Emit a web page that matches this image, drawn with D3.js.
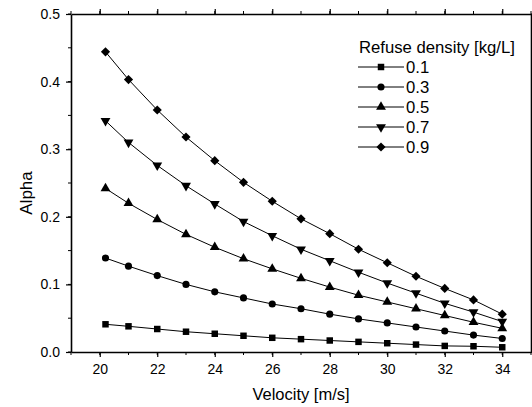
<!DOCTYPE html>
<html>
<head>
<meta charset="utf-8">
<script src="https://cdn.jsdelivr.net/npm/d3@7"></script>
<style>
  body { margin: 0; background: #fff; }
  svg { font-family: "Liberation Sans", Arial, sans-serif; }
</style>
</head>
<body>
<svg width="532" height="407"></svg>
<script>
const velocity = [20.2, 21, 22, 23, 24, 25, 26, 27, 28, 29, 30, 31, 32, 33, 34];
const densities = ['0.1', '0.3', '0.5', '0.7', '0.9'];
const alpha01 = [0.041, 0.038, 0.034, 0.030, 0.027, 0.024, 0.021, 0.019, 0.017, 0.015, 0.013, 0.011, 0.009, 0.0085, 0.007];
const alpha03 = [0.139, 0.127, 0.113, 0.100, 0.089, 0.080, 0.071, 0.064, 0.056, 0.049, 0.043, 0.037, 0.031, 0.025, 0.020];
const alpha05 = [0.242, 0.220, 0.196, 0.174, 0.155, 0.138, 0.123, 0.109, 0.096, 0.084, 0.074, 0.064, 0.054, 0.044, 0.035];
const alpha07 = [0.342, 0.310, 0.276, 0.246, 0.219, 0.193, 0.172, 0.152, 0.135, 0.118, 0.102, 0.087, 0.072, 0.059, 0.045];
const alpha09 = [0.444, 0.403, 0.358, 0.318, 0.283, 0.251, 0.223, 0.197, 0.175, 0.152, 0.132, 0.112, 0.094, 0.077, 0.056];
const xTicks = [20, 22, 24, 26, 28, 30, 32, 34];
const yTicks = [0.0, 0.1, 0.2, 0.3, 0.4, 0.5];

const seriesValues = [alpha01, alpha03, alpha05, alpha07, alpha09];
const series = densities.map((d, i) => ({
  name: d,
  points: velocity.map((v, j) => ({ x: v, y: seriesValues[i][j] })),
}));

const LEFT = 71, RIGHT = 531, TOP = 14, BOTTOM = 352;

const x = d3.scaleLinear().domain([19, 35]).range([LEFT, RIGHT]);
const y = d3.scaleLinear().domain([0, 0.5]).range([BOTTOM, TOP]);

const svg = d3.select('svg');

// marker shapes: square, circle, up triangle, down triangle, diamond
const shapes = [
  { type: d3.symbolSquare, size: 42, rotate: 0 },
  { type: d3.symbolCircle, size: 40, rotate: 0 },
  { type: d3.symbolTriangle, size: 42, rotate: 0 },
  { type: d3.symbolTriangle, size: 42, rotate: 180 },
  { type: d3.symbolSquare, size: 42, rotate: 45 },
];

const line = d3.line().x((d) => x(d.x)).y((d) => y(d.y));

const plot = svg.append('g');

plot
  .selectAll('.series')
  .data(series)
  .enter()
  .append('path')
  .classed('series', true)
  .attr('d', (d) => line(d.points))
  .attr('fill', 'none')
  .attr('stroke', '#000')
  .attr('stroke-width', 1);

series.forEach((s, i) => {
  plot
    .selectAll('.m' + i)
    .data(s.points)
    .enter()
    .append('path')
    .classed('m' + i, true)
    .attr('d', d3.symbol(shapes[i].type, shapes[i].size))
    .attr('transform', (d) => `translate(${x(d.x)},${y(d.y)}) rotate(${shapes[i].rotate})`)
    .attr('fill', '#000');
});

// axes, with mirrored frame and minor ticks
const minorX = d3.range(19, 36, 1);
const minorY = d3.range(0, 0.51, 0.05);

const bottomAxis = svg.append('g')
  .attr('transform', `translate(0,${BOTTOM})`)
  .call(d3.axisBottom(x).tickValues(xTicks).tickFormat(d3.format('d')).tickSize(5).tickPadding(7).tickSizeOuter(0));
bottomAxis.append('g').selectAll('line').data(minorX).enter().append('line')
  .attr('x1', (d) => x(d)).attr('x2', (d) => x(d)).attr('y1', 0).attr('y2', 3).attr('stroke', '#000');

const leftAxis = svg.append('g')
  .attr('transform', `translate(${LEFT},0)`)
  .call(d3.axisLeft(y).tickValues(yTicks).tickFormat(d3.format('.1f')).tickSize(5).tickPadding(6).tickSizeOuter(0));
leftAxis.append('g').selectAll('line').data(minorY).enter().append('line')
  .attr('y1', (d) => y(d)).attr('y2', (d) => y(d)).attr('x1', 0).attr('x2', -3).attr('stroke', '#000');

const topAxis = svg.append('g')
  .attr('transform', `translate(0,${TOP})`)
  .call(d3.axisTop(x).tickValues(xTicks).tickFormat('').tickSize(5).tickSizeOuter(0));
topAxis.append('g').selectAll('line').data(minorX).enter().append('line')
  .attr('x1', (d) => x(d)).attr('x2', (d) => x(d)).attr('y1', 0).attr('y2', -3).attr('stroke', '#000');

const rightAxis = svg.append('g')
  .attr('transform', `translate(${RIGHT},0)`)
  .call(d3.axisRight(y).tickValues(yTicks).tickFormat('').tickSize(5).tickSizeOuter(0));
rightAxis.append('g').selectAll('line').data(minorY).enter().append('line')
  .attr('y1', (d) => y(d)).attr('y2', (d) => y(d)).attr('x1', 0).attr('x2', 3).attr('stroke', '#000');

[bottomAxis, leftAxis, topAxis, rightAxis].forEach((a) => {
  a.select('.domain').attr('stroke-width', 1.6);
  a.selectAll('.tick line').attr('stroke-width', 1.2);
  a.selectAll('text').attr('font-size', 14).attr('font-family', '"Liberation Sans", Arial, sans-serif').attr('fill', '#000');
});

// axis titles
svg.append('text')
  .attr('x', 301)
  .attr('y', 400)
  .attr('text-anchor', 'middle')
  .attr('font-size', 16.5)
  .text('Velocity [m/s]');

svg.append('text')
  .attr('transform', 'translate(32,193) rotate(-90)')
  .attr('text-anchor', 'middle')
  .attr('font-size', 17)
  .text('Alpha');

// legend
const legend = svg.append('g').attr('transform', 'translate(358,0)');
legend.append('text')
  .attr('x', 1)
  .attr('y', 53)
  .attr('font-size', 16.7)
  .text('Refuse density [kg/L]');

const items = legend.selectAll('.item')
  .data(series)
  .enter()
  .append('g')
  .classed('item', true)
  .attr('transform', (d, i) => `translate(0,${67 + i * 20})`);

items.append('line')
  .attr('x1', 0).attr('x2', 46).attr('y1', 0).attr('y2', 0)
  .attr('stroke', '#000');
items.append('path')
  .attr('d', (d, i) => d3.symbol(shapes[i].type, shapes[i].size)())
  .attr('transform', (d, i) => `translate(23,0) rotate(${shapes[i].rotate})`)
  .attr('fill', '#000');
items.append('text')
  .attr('x', 48)
  .attr('dy', '0.35em')
  .attr('font-size', 16.7)
  .text((d) => d.name);
</script>
</body>
</html>
